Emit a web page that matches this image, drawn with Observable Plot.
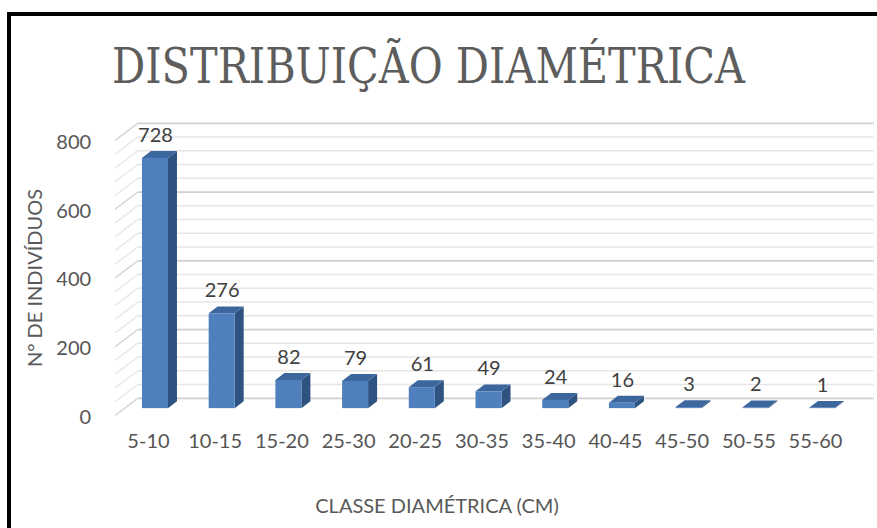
<!DOCTYPE html>
<html>
<head>
<meta charset="utf-8">
<script src="https://cdn.jsdelivr.net/npm/d3@7"></script>
<script src="https://cdn.jsdelivr.net/npm/@observablehq/plot@0.6"></script>
<style>
  html, body { margin: 0; padding: 0; background: #fff; overflow: hidden; }
  #wrap { position: relative; width: 877px; height: 528px; overflow: hidden; background: #fff; }
  #border { position: absolute; left: 7px; top: 12px; width: 1000px; height: 1000px; border: 4px solid #000; box-sizing: border-box; }
  #title { position: absolute; left: 112px; top: 42px; font-family: "DejaVu Serif Condensed", "DejaVu Serif", serif; font-size: 48px; line-height: 48px; color: #5d5d5d; white-space: nowrap; transform-origin: 0 0; }
  #chart { position: absolute; left: 0; top: 110px; }
</style>
</head>
<body>
<div id="wrap">
  <div id="border"></div>
  <div id="title">DISTRIBUIÇÃO DIAMÉTRICA</div>
  <div id="chart"></div>
</div>
<script>
// ---- data ----
const classes = ["5-10", "10-15", "15-20", "25-30", "20-25", "30-35", "35-40", "40-45", "45-50", "50-55", "55-60"];
const counts = [728, 276, 82, 79, 61, 49, 24, 16, 3, 2, 1];
const yTicks = [0, 200, 400, 600, 800];
const gridStep = 40;
const yTitle = "N° DE INDIVÍDUOS";
const xTitle = "CLASSE DIAMÉTRICA (CM)";

// ---- 3D styling constants (in scale units) ----
const BW = 0.195;  // half bar width
const BX = 0.105;  // bar plane x shift
const BZ = 20;     // bar plane y shift
const DX = 0.135;  // bar depth x
const DZ = 20;     // bar depth y
const WX = 0.34;   // wall depth x
const WZ = 50;     // wall depth y
const xMin = -0.5, xMax = 10.5;

const bars = classes.map((c, i) => ({c, i, v: counts[i]}));
const grid = d3.range(0, 801, gridStep).map(k => ({k, major: k % 200 === 0}));

const sidePts = bars.flatMap(b => [
  {c: b.c, x: b.i + BX + BW, y1: BZ, y2: b.v + BZ},
  {c: b.c, x: b.i + BX + BW + DX, y1: BZ + DZ, y2: b.v + BZ + DZ}
]);
const topPts = bars.flatMap(b => [
  {c: b.c, y: b.v + BZ, x1: b.i + BX - BW, x2: b.i + BX + BW},
  {c: b.c, y: b.v + BZ + DZ, x1: b.i + BX - BW + DX, x2: b.i + BX + BW + DX}
]);

const minor = "#e6e6e6", major = "#d0d0d0";

const chart = Plot.plot({
  width: 877,
  height: 418,
  marginTop: 30,
  marginBottom: 113,
  marginLeft: 114.6,
  marginRight: 28.6,
  style: {fontFamily: "Lato, sans-serif", fontSize: "20px", color: "#555555", background: "transparent", overflow: "visible"},
  x: {type: "linear", domain: [xMin, xMax]},
  y: {domain: [0, 800]},
  marks: [
    // left wall slanted grid lines
    Plot.link(grid, {x1: () => xMin, y1: d => d.k, x2: () => xMin + WX, y2: d => d.k + WZ,
      stroke: d => d.major ? major : minor, strokeWidth: 1.4}),
    // back wall grid lines
    Plot.link(grid, {x1: () => xMin + WX, y1: d => d.k + WZ, x2: () => xMax + WX + 0.03, y2: d => d.k + WZ,
      stroke: d => d.major ? major : minor, strokeWidth: d => d.major ? 1.8 : 1.4}),
    // bar side faces
    Plot.areaY(sidePts, {x: "x", y1: "y1", y2: "y2", z: "c", fill: "#2f5380"}),
    // bar top faces
    Plot.areaX(topPts, {y: "y", x1: "x1", x2: "x2", z: "c", fill: "#3b679d"}),
    // bar front faces
    Plot.rect(bars, {x1: d => d.i + BX - BW, x2: d => d.i + BX + BW, y1: () => BZ, y2: d => d.v + BZ, fill: "#4f80bd"}),
    // value labels
    Plot.text(bars, {x: d => d.i + BX, y: d => d.v + BZ, text: d => String(d.v), dy: -23,
      fontSize: 20, fill: "#404040", lineAnchor: "middle"}),
    // axes
    Plot.axisY({ticks: yTicks, tickSize: 0, tickPadding: 24, fontSize: 20, label: null, dy: 2}),
    Plot.axisX({ticks: d3.range(classes.length), tickFormat: i => classes[i], tickSize: 0, tickPadding: 18, fontSize: 20, label: null}),
    // axis titles
    Plot.text([yTitle], {frameAnchor: "left", text: d => d, rotate: -90, dx: -80, textAnchor: "middle", lineAnchor: "middle", fontSize: 20, fill: "#595959"}),
    Plot.text([xTitle], {frameAnchor: "bottom", text: d => d, dy: 91, dx: -45, textAnchor: "middle", lineAnchor: "middle", fontSize: 20, fill: "#595959"})
  ]
});
document.getElementById("chart").appendChild(chart);

// fit title width to reference span
const t = document.getElementById("title");
const w = t.getBoundingClientRect().width;
t.style.transform = `scaleX(${633 / w})`;
</script>
</body>
</html>
